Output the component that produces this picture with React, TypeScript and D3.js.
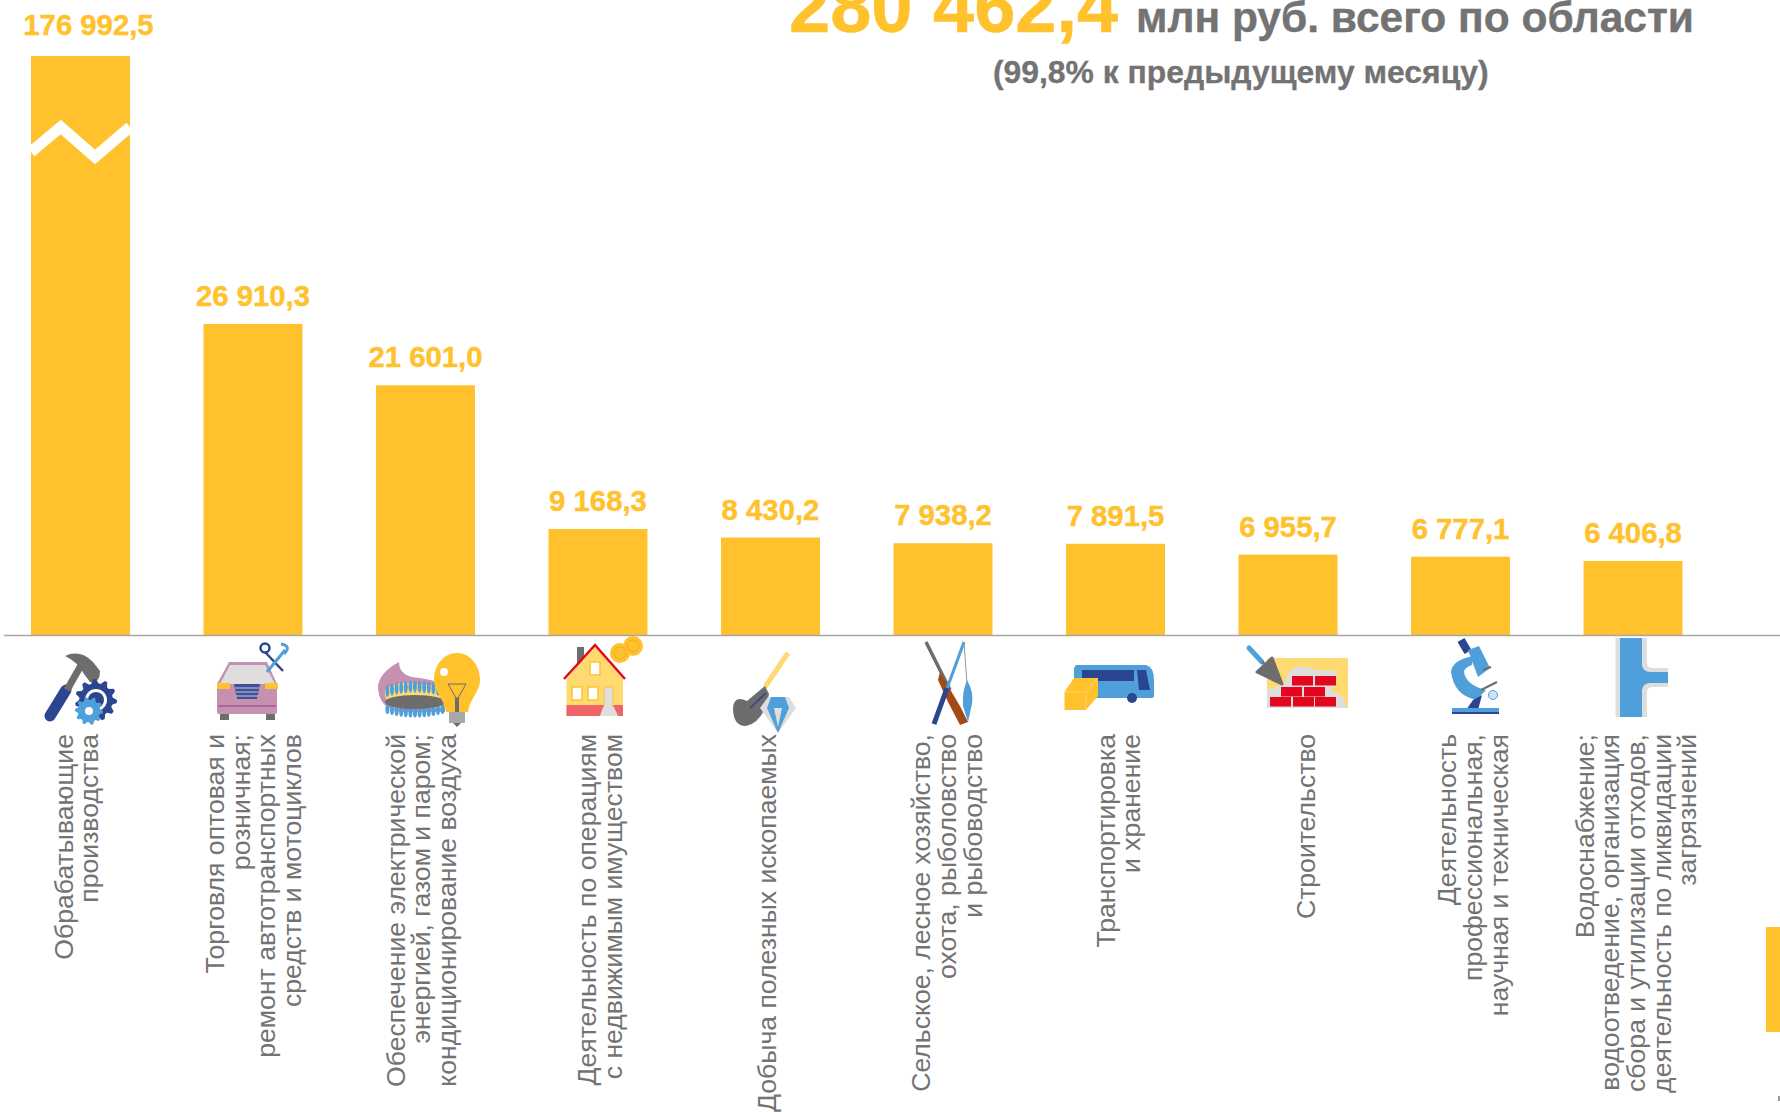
import React from "react";
import * as d3 from "d3";

const W = 1780, H = 1112;
const categories = ["manufacturing","trade","energy","realty","mining","agro","transport","construction","science","water"];
const values = [176992.5, 26910.3, 21601.0, 9168.3, 8430.2, 7938.2, 7891.5, 6955.7, 6777.1, 6406.8];
const valueLabels = ["176 992,5","26 910,3","21 601,0","9 168,3","8 430,2","7 938,2","7 891,5","6 955,7","6 777,1","6 406,8"];
const labelLines = [
  ["Обрабатывающие","производства"],
  ["Торговля оптовая и","розничная;","ремонт автотранспортных","средств и мотоциклов"],
  ["Обеспечение электрической","энергией, газом и паром;","кондиционирование воздуха"],
  ["Деятельность по операциям","с недвижимым имуществом"],
  ["Добыча полезных ископаемых"],
  ["Сельское, лесное хозяйство,","охота, рыболовство","и рыбоводство"],
  ["Транспортировка","и хранение"],
  ["Строительство"],
  ["Деятельность","профессиональная,","научная и техническая"],
  ["Водоснабжение;","водоотведение, организация","сбора и утилизации отходов,","деятельность по ликвидации","загрязнений"],
];
const totalValue = "280 462,4";
const totalText = "млн руб. всего по области";
const subtitle = "(99,8% к предыдущему месяцу)";

// layout only
const labelShift = [5, 9.5, 5, 11, 5.5, 13, 12, 27, 21.5, 12];
const YELLOW = "#FFC22D", GREY = "#737373", BLUE = "#4F9FDA", NAVY = "#2B4590", PINK = "#C690B0", SAND = "#FFDA70", STONE = "#6D6D6D", PALE = "#DEDEDE", RED = "#E3061E";
const SANS = "'Liberation Sans', Arial, sans-serif";
const BASE = 635;

const x = d3.scaleBand<string>().domain(categories).range([31, 1682.5]).paddingInner(0.4264).paddingOuter(0);
// the top bar runs past the frame of the scale: the axis is broken, as the zigzag shows
const y = d3.scaleLinear().domain([0, 50090]).range([BASE, 56]).clamp(true);

function gear(cx: number, cy: number, r: number, teeth: number) {
  const pts: [number, number][] = [];
  for (let i = 0; i < teeth * 4; i++) {
    const a = (i / (teeth * 4)) * Math.PI * 2;
    const rr = i % 4 < 2 ? r : r * 0.8;
    pts.push([cx + rr * Math.cos(a), cy + rr * Math.sin(a)]);
  }
  return d3.line()(pts) + "Z";
}

function Icons() {
  return (
    <g>
      {/* hammer and gears */}
      <path d="M50 716L66 690" stroke={NAVY} strokeWidth={11} strokeLinecap="round" />
      <path d="M67 690L84 660" stroke={STONE} strokeWidth={7} />
      <path d="M65 656Q80 649 93 662L100 671Q100 684 90 682L84 674Q78 662 65 656Z" fill={STONE} />
      <path d={gear(96, 700, 21, 11)} fill={NAVY} />
      <circle cx={96} cy={700} r={11} fill="#fff" />
      <circle cx={96} cy={700} r={8} fill={NAVY} />
      <path d={gear(89, 711, 14, 10)} fill={BLUE} />
      <circle cx={89} cy={711} r={4} fill="#fff" />
      {/* car and tools */}
      <path d="M229 662H267L277 684V712Q277 714 275 714H219Q217 714 217 712V684Z" fill={PINK} />
      <path d="M230 665H265L275 684H220Z" fill={PALE} />
      <rect x={217} y={683} width={13} height={6} fill={YELLOW} />
      <rect x={265} y={683} width={13} height={6} fill={YELLOW} />
      <path d="M234 684H260L257 699H237Z" fill={NAVY} opacity={0.85} />
      <path d="M235 688H259M236 692H258M236 696H258" stroke="#fff" strokeWidth={0.7} />
      <path d="M218 706H276" stroke="#8E3F7E" strokeWidth={1} />
      <rect x={220} y={714} width={9} height={6} fill={STONE} />
      <rect x={266} y={714} width={9} height={6} fill={STONE} />
      <path d="M265 652L283 671" stroke={NAVY} strokeWidth={2.5} />
      <circle cx={265} cy={648} r={4.5} fill="none" stroke={NAVY} strokeWidth={2.5} />
      <path d="M285 650L267 672" stroke={BLUE} strokeWidth={3} />
      <path d="M281 644Q292 646 284 654" fill="none" stroke={BLUE} strokeWidth={3} />
      {/* gas flame and bulb */}
      <path d="M399 662Q399 677 420 678Q434 680 445 685V712H400Q378 708 378 686Q380 672 399 662Z" fill={PINK} />
      <path d="M385 690Q400 680 415 684L445 686V708H392Q384 700 385 690Z" fill={SAND} />
      <g fill={BLUE}>
        {d3.range(-6, 7).map(i => (
          <ellipse key={i} cx={415 + i * 4.6} cy={691 - (36 - i * i) * 0.12} rx={1.9} ry={6} />
        ))}
        {d3.range(-6, 7).map(i => (
          <ellipse key={i} cx={415 + i * 4.6} cy={709 + (36 - i * i) * 0.1} rx={2} ry={5} />
        ))}
      </g>
      <ellipse cx={415} cy={702} rx={30} ry={7} fill={STONE} />
      <path d="M457 653C470 653 480 665 480 680C480 692 470 698 468 712H446C444 698 434 692 434 680C434 665 444 653 457 653Z" fill={YELLOW} />
      <path d="M448 684H466L458 698H456Z" fill="none" stroke={STONE} strokeWidth={1} />
      <rect x={455} y={698} width={4} height={16} fill={STONE} />
      <rect x={449} y={712} width={16} height={11} fill="#A8A8A8" />
      <path d="M453 723H461L457 727Z" fill={STONE} />
      <circle cx={444} cy={672} r={4} fill="#fff" />
      {/* house and coins */}
      <rect x={577} y={647} width={7} height={20} fill={STONE} />
      <path d="M595 645L623 679V716H566.5V679Z" fill={SAND} />
      <rect x={566.5} y={705} width={56.5} height={11} fill="#EF6468" />
      <path d="M564 679L595 645L625 679" fill="none" stroke={RED} strokeWidth={2.5} />
      <rect x={590} y={662} width={10} height={13} fill="#fff" stroke={YELLOW} strokeWidth={1.5} />
      <rect x={572} y={687} width={10} height={13} fill="#fff" stroke={YELLOW} strokeWidth={1.5} />
      <rect x={588} y={687} width={10} height={13} fill="#fff" stroke={YELLOW} strokeWidth={1.5} />
      <rect x={604} y={687} width={9} height={22} fill={PALE} stroke={YELLOW} strokeWidth={1} />
      <path d="M600 716L603 707H614L618 716Z" fill={PALE} />
      <circle cx={633} cy={646} r={10} fill={YELLOW} />
      <circle cx={620} cy={653} r={10} fill={YELLOW} />
      <circle cx={620} cy={653} r={6} fill="none" stroke="#F2A91C" strokeWidth={1} />
      <circle cx={633} cy={646} r={6} fill="none" stroke="#F2A91C" strokeWidth={1} />
      {/* shovel and diamond */}
      <path d="M788 653L765 687" stroke={SAND} strokeWidth={5} />
      <path d="M747 701L765 686L769 694Q764 722 746 726Q733 726 733 708Q734 695 747 701Z" fill={STONE} />
      <path d="M766 693L750 708" stroke={NAVY} strokeWidth={1.5} />
      <path d="M768 697H789L796 708L778 733L760 708Z" fill={PALE} />
      <path d="M771 697H785L789 708L778 733L767 708Z" fill={BLUE} />
      <path d="M774 708H782L778 727Z" fill={PALE} />
      {/* gun, rod and fish */}
      <path d="M926 642L950 690" stroke={STONE} strokeWidth={3.5} />
      <path d="M940 672L961 708L968 722L960 725L948 702L938 680Z" fill="#A34A17" />
      <path d="M964 642L934 724" stroke={BLUE} strokeWidth={3} />
      <path d="M947 688L934 724" stroke={NAVY} strokeWidth={5} />
      <path d="M964 642L967 684" stroke="#999" strokeWidth={1} fill="none" />
      <path d="M967 680Q974 692 972 704L968 722L963 706Q962 692 967 680Z" fill={BLUE} />
      {/* bus and box */}
      <path d="M1076 665H1146Q1154 667 1154 680V696Q1154 698 1150 698H1074V668Z" fill={BLUE} />
      <rect x={1082} y={670} width={52} height={11} fill={NAVY} />
      <path d="M1137 670H1146L1150 690H1139Z" fill={NAVY} />
      <circle cx={1132} cy={698} r={5} fill={NAVY} />
      <path d="M1064.5 692L1074 678H1098V696L1086 710H1064.5Z" fill={YELLOW} />
      <path d="M1064.5 692H1086L1098 678M1086 692V710" stroke="#FFD566" strokeWidth={1} fill="none" />
      {/* bricks */}
      <rect x={1267} y={658} width={81} height={50} fill={SAND} />
      <path d="M1267 708V690L1285 684Q1287 665 1305 667Q1320 672 1335 670Q1340 683 1330 690Q1345 695 1347 708Z" fill={PALE} />
      {[
        [1292, 676], [1315, 676],
        [1281, 687], [1304, 687],
        [1270, 697], [1293, 697], [1315, 697],
      ].map(([bx, by], i) => (
        <rect key={i} x={bx} y={by} width={21} height={9.5} fill={RED} />
      ))}
      <path d="M1249 648L1262 662" stroke={BLUE} strokeWidth={5} strokeLinecap="round" />
      <path d="M1262 662L1270 667" stroke={STONE} strokeWidth={2} />
      <path d="M1272 658L1257 672L1282 684Z" fill={STONE} stroke={STONE} strokeWidth={3} strokeLinejoin="round" />
      {/* microscope */}
      <path d="M1461 640L1468 652" stroke={NAVY} strokeWidth={8} />
      <path d="M1468 650L1479 646L1490 668L1478 677Z" fill={BLUE} />
      <path d="M1473 656Q1452 660 1451 672Q1454 695 1476 700L1486 690Q1466 685 1464 672Q1464 668 1472 665Z" fill={BLUE} />
      <path d="M1483 670L1491 667M1481 690L1497 682" stroke={STONE} strokeWidth={2} />
      <circle cx={1493} cy={695} r={4.5} fill="#CFE5F6" stroke={BLUE} strokeWidth={1} />
      <path d="M1473 700L1466 710H1478L1482 695Z" fill={NAVY} />
      <rect x={1452} y={708} width={47} height={4} fill={BLUE} />
      <rect x={1452} y={712} width={47} height={2} fill={NAVY} />
      {/* pipe */}
      <path d="M1615.5 638H1647V664Q1648 668 1652 668H1668V687H1652Q1648 687 1647 691V717H1615.5Z" fill={PALE} />
      <path d="M1620 638H1642V665Q1643 672 1650 672H1668V683H1650Q1643 683 1642 690V717H1620Z" fill={BLUE} />
    </g>
  );
}

export default function App() {
  return (
    <svg width={W} height={H} viewBox={`0 0 ${W} ${H}`} style={{ position: "fixed", left: 0, top: 0, background: "#fff" }} fontFamily={SANS}>
      {categories.map((c, i) => {
        const top = y(values[i]);
        const broken = values[i] > y.domain()[1];
        const cx = (x(c) as number) + x.bandwidth() / 2;
        return (
          <g key={c}>
            <rect x={x(c)} y={top} width={x.bandwidth()} height={BASE - top} fill={YELLOW} />
            <text x={cx + (broken ? 8 : 0)} y={top - (broken ? 21 : 18)} textAnchor="middle" fontSize={29.3} fontWeight={700} fill={YELLOW} stroke={YELLOW} strokeWidth={0.4}>{valueLabels[i]}</text>
            {broken && (
              <path d={d3.line()([[x(c) as number, 152], [60.7, 127], [95, 157], [(x(c) as number) + x.bandwidth(), 127]]) as string}
                fill="none" stroke="#fff" strokeWidth={11} strokeLinejoin="miter" />
            )}
            {labelLines[i].map((ln, j) => (
              <text key={j} transform={`translate(${cx + labelShift[i] + (j - (labelLines[i].length - 1) / 2) * 25.6},734) rotate(-90)`}
                textAnchor="end" fontSize={26.6} fill={GREY}>{ln}</text>
            ))}
          </g>
        );
      })}
      <line x1={4} x2={W} y1={BASE + 0.5} y2={BASE + 0.5} stroke="#A6A6A6" strokeWidth={1.5} />
      <Icons />
      <text x={789} y={32} fontSize={74} fontWeight={700} fill={YELLOW} stroke={YELLOW} strokeWidth={0.5}>{totalValue}</text>
      <text x={1136} y={32} fontSize={42.5} fontWeight={700} fill={GREY} stroke={GREY} strokeWidth={0.4}>{totalText}</text>
      <text x={993} y={83} fontSize={31.85} fontWeight={700} fill={GREY} stroke={GREY} strokeWidth={0.3}>{subtitle}</text>
      <rect x={1766} y={927} width={14} height={105} fill={YELLOW} />
      <rect x={1778} y={1096} width={2} height={5} fill="#999" />
    </svg>
  );
}
